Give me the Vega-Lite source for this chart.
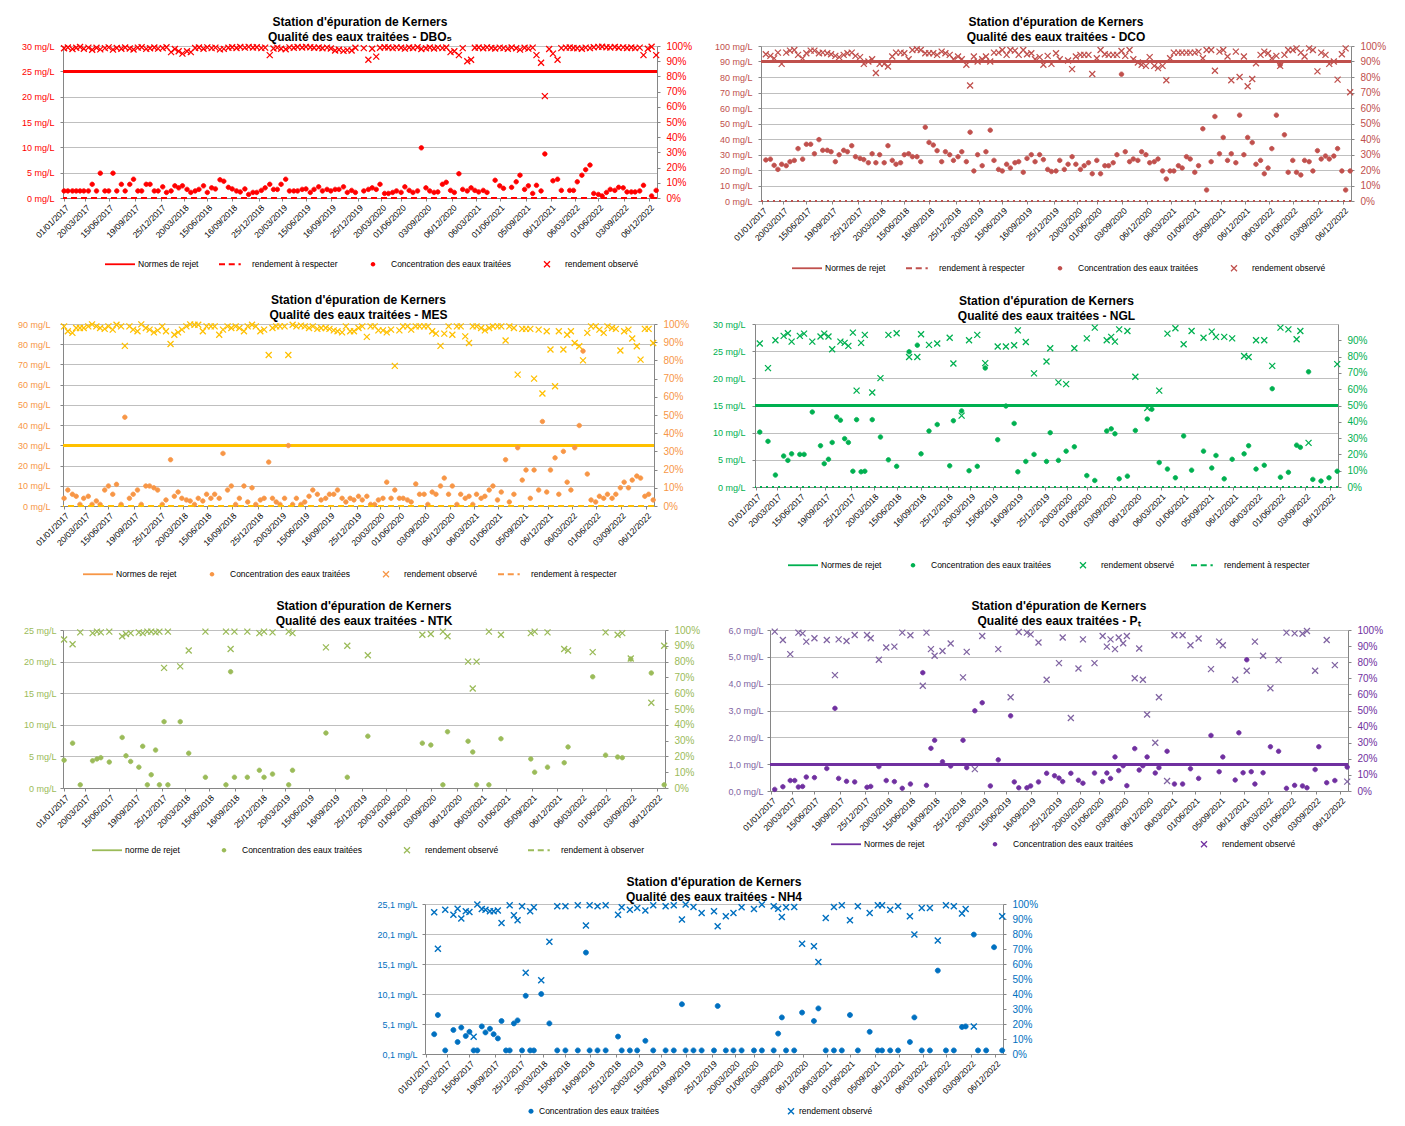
{
"$schema": "https://vega.github.io/schema/vega-lite/v6.json",
"background": "white",
"padding": {"left": 17, "top": 16, "right": 5, "bottom": 2},
"config": {
 "font": "Liberation Sans",
 "view": {"stroke": null},
 "title": {"font": "Liberation Sans", "fontSize": 12, "fontWeight": "bold", "color": "#000", "subtitleFont": "Liberation Sans", "subtitleFontSize": 12, "subtitleFontWeight": "bold", "subtitleColor": "#000", "subtitlePadding": 3, "offset": -3, "anchor": "middle"},
 "axis": {"labelFont": "Liberation Sans", "labelFontSize": 9, "tickSize": 3, "tickColor": "#868686", "domainColor": "#868686", "gridColor": "#BFBFBF", "labelPadding": 2, "labelOverlap": false},
 "legend": {"labelFont": "Liberation Sans", "labelFontSize": 8.5, "labelColor": "#000", "orient": "none", "direction": "horizontal", "symbolStrokeWidth": 0, "labelOffset": 3, "title": null}
},
"datasets": {
"dbo5": [{"d":"2017-01-01","c":1.4,"r":98.5},{"d":"2017-01-15","c":1.4,"r":99},{"d":"2017-02-01","c":1.4,"r":98},{"d":"2017-02-15","c":1.4,"r":98.8},{"d":"2017-03-01","c":1.4,"r":99.3},{"d":"2017-03-15","c":1.4,"r":98.2},{"d":"2017-04-01","c":1.4,"r":98.9},{"d":"2017-04-15","c":2.7,"r":97.5},{"d":"2017-05-01","c":1.4,"r":98.8},{"d":"2017-05-15","c":4.9,"r":97.8},{"d":"2017-06-01","c":1.4,"r":98.6},{"d":"2017-06-15","c":1.4,"r":99.1},{"d":"2017-07-01","c":4.9,"r":97.6},{"d":"2017-07-15","c":1.4,"r":98.7},{"d":"2017-08-01","c":2.7,"r":98.2},{"d":"2017-08-15","c":1.4,"r":99},{"d":"2017-09-01","c":2.7,"r":98.4},{"d":"2017-09-15","c":3.7,"r":97.7},{"d":"2017-10-01","c":1.4,"r":98.9},{"d":"2017-10-15","c":1.4,"r":99.2},{"d":"2017-11-01","c":2.7,"r":98.1},{"d":"2017-11-15","c":2.7,"r":98.5},{"d":"2017-12-01","c":1.4,"r":99},{"d":"2017-12-15","c":1.4,"r":98.3},
{"d":"2018-01-01","c":2.2,"r":98.6},{"d":"2018-01-15","c":1.1,"r":99.2},{"d":"2018-02-01","c":1.4,"r":96},{"d":"2018-02-15","c":2.4,"r":98},{"d":"2018-03-01","c":2.0,"r":96.5},{"d":"2018-03-15","c":2.4,"r":95},{"d":"2018-04-01","c":1.7,"r":96.5},{"d":"2018-04-15","c":1.1,"r":96},{"d":"2018-05-01","c":1.4,"r":98.7},{"d":"2018-05-15","c":1.7,"r":99},{"d":"2018-06-01","c":2.4,"r":98.2},{"d":"2018-06-15","c":1.1,"r":99.1},{"d":"2018-07-01","c":2.0,"r":98.6},{"d":"2018-07-15","c":1.8,"r":98.9},{"d":"2018-08-01","c":3.6,"r":97.8},{"d":"2018-08-15","c":3.3,"r":98.1},{"d":"2018-09-01","c":2.1,"r":98.8},{"d":"2018-09-15","c":1.8,"r":99.2},{"d":"2018-10-01","c":1.4,"r":98.7},{"d":"2018-10-15","c":1.2,"r":99.3},{"d":"2018-11-01","c":1.8,"r":98.9},{"d":"2018-11-15","c":0.7,"r":99.4},{"d":"2018-12-01","c":1.1,"r":99},{"d":"2018-12-15","c":1.1,"r":99.2},
{"d":"2019-01-01","c":1.5,"r":98.6},{"d":"2019-01-15","c":2.0,"r":98.9},{"d":"2019-02-01","c":2.7,"r":94},{"d":"2019-02-15","c":1.7,"r":98.4},{"d":"2019-03-01","c":1.7,"r":98.9},{"d":"2019-03-15","c":2.7,"r":98.2},{"d":"2019-04-01","c":3.7,"r":97.9},{"d":"2019-04-15","c":1.4,"r":99.1},{"d":"2019-05-01","c":1.4,"r":98.8},{"d":"2019-05-15","c":1.4,"r":99.3},{"d":"2019-06-01","c":1.7,"r":99},{"d":"2019-06-15","c":1.8,"r":99.4},{"d":"2019-07-01","c":1.1,"r":99.2},{"d":"2019-07-15","c":1.7,"r":98.8},{"d":"2019-08-01","c":2.2,"r":99},{"d":"2019-08-15","c":1.4,"r":98.5},{"d":"2019-09-01","c":1.7,"r":98.9},{"d":"2019-09-15","c":1.4,"r":98.4},{"d":"2019-10-01","c":1.7,"r":97},{"d":"2019-10-15","c":1.7,"r":97.5},{"d":"2019-11-01","c":2.2,"r":96.8},{"d":"2019-11-15","c":1.1,"r":97.3},{"d":"2019-12-01","c":1.5,"r":97},{"d":"2019-12-15","c":1.1,"r":98.8},
{"d":"2020-01-15","c":1.4,"r":98.6},{"d":"2020-02-01","c":1.7,"r":91},{"d":"2020-02-15","c":2.0,"r":98.2},{"d":"2020-03-01","c":1.7,"r":93},{"d":"2020-03-15","c":2.7,"r":98.8},{"d":"2020-04-01","c":0.9,"r":99.2},{"d":"2020-04-15","c":0.9,"r":99},{"d":"2020-05-01","c":1.1,"r":98.6},{"d":"2020-05-15","c":1.4,"r":99.1},{"d":"2020-06-01","c":1.1,"r":98.8},{"d":"2020-06-15","c":2.2,"r":98.3},{"d":"2020-07-01","c":1.5,"r":99},{"d":"2020-07-15","c":1.1,"r":98.7},{"d":"2020-08-01","c":1.4,"r":99.2},{"d":"2020-08-15","c":9.9,"r":98},{"d":"2020-09-01","c":2.0,"r":98.5},{"d":"2020-09-15","c":1.4,"r":99},{"d":"2020-10-01","c":1.1,"r":98.4},{"d":"2020-10-15","c":1.2,"r":98.9},{"d":"2020-11-01","c":2.7,"r":98.6},{"d":"2020-11-15","c":3.1,"r":99},{"d":"2020-12-01","c":1.5,"r":96},{"d":"2020-12-15","c":1.1,"r":96.5},
{"d":"2021-01-01","c":4.8,"r":94},{"d":"2021-01-15","c":1.7,"r":98.6},{"d":"2021-02-01","c":1.4,"r":90},{"d":"2021-02-15","c":2.0,"r":91},{"d":"2021-03-01","c":1.5,"r":98.8},{"d":"2021-03-15","c":1.2,"r":99},{"d":"2021-04-01","c":1.5,"r":98.5},{"d":"2021-04-15","c":1.1,"r":99.1},{"d":"2021-05-01","r":98.7},{"d":"2021-05-15","c":3.5,"r":98.4},{"d":"2021-06-01","c":2.4,"r":98.9},{"d":"2021-06-15","c":1.9,"r":98.6},{"d":"2021-07-01","r":98.2},{"d":"2021-07-15","c":2.1,"r":99},{"d":"2021-08-01","c":3.2,"r":98.5},{"d":"2021-08-15","c":4.5,"r":97.6},{"d":"2021-09-01","c":1.7,"r":98.8},{"d":"2021-09-15","c":2.4,"r":98.3},{"d":"2021-10-01","c":0.9,"r":98.9},{"d":"2021-10-15","c":2.5,"r":94},{"d":"2021-11-01","c":1.4,"r":89},{"d":"2021-11-15","c":8.7,"r":67},{"d":"2021-12-01","r":98},{"d":"2021-12-15","c":3.4,"r":95},
{"d":"2022-01-01","c":3.7,"r":91},{"d":"2022-01-15","c":1.5,"r":98.6},{"d":"2022-02-01","r":98.9},{"d":"2022-02-15","c":1.5,"r":99},{"d":"2022-03-01","c":1.5,"r":98.7},{"d":"2022-03-15","c":3.2,"r":98.5},{"d":"2022-04-01","c":4.5,"r":98.2},{"d":"2022-04-15","c":5.6,"r":98.9},{"d":"2022-05-01","c":6.5,"r":98.6},{"d":"2022-05-15","c":0.9,"r":99.2},{"d":"2022-06-01","c":0.7,"r":99.4},{"d":"2022-06-15","c":0.4,"r":99.5},{"d":"2022-07-01","c":1.1,"r":99.2},{"d":"2022-07-15","c":1.7,"r":99},{"d":"2022-08-01","c":1.5,"r":99.3},{"d":"2022-08-15","c":2.1,"r":98.8},{"d":"2022-09-01","c":2.0,"r":99.1},{"d":"2022-09-15","c":1.2,"r":98.7},{"d":"2022-10-01","c":1.2,"r":99},{"d":"2022-10-15","c":1.2,"r":98.6},{"d":"2022-11-01","c":1.4,"r":98.9},{"d":"2022-11-15","c":2.5,"r":94},{"d":"2022-12-01","r":98.2},{"d":"2022-12-15","c":0.4,"r":99.5},{"d":"2023-01-01","c":1.5,"r":94}],
"dco": [{"d":"2017-01-15","c":26.5,"r":94.7},{"d":"2017-02-01","c":27,"r":93.6},{"d":"2017-02-15","c":23,"r":92},{"d":"2017-03-01","c":20.4,"r":95.7},{"d":"2017-03-15","c":23.7,"r":88.5},{"d":"2017-04-01","c":22.8,"r":95.7},{"d":"2017-04-15","c":25.4,"r":97},{"d":"2017-05-01","c":26.2,"r":97.4},{"d":"2017-05-15","c":33.8,"r":94.3},{"d":"2017-06-01","c":27,"r":92},{"d":"2017-06-15","c":36.6,"r":95.3},{"d":"2017-07-01","c":36.6,"r":97},{"d":"2017-07-15","c":30.5,"r":97},{"d":"2017-08-01","c":39.6,"r":95.3},{"d":"2017-08-15","c":32.7,"r":95.7},{"d":"2017-09-01","c":32.7,"r":95.3},{"d":"2017-09-15","c":31.8,"r":94.7},{"d":"2017-10-01","c":25.4,"r":93.6},{"d":"2017-10-15","c":29.9,"r":92.8},{"d":"2017-11-01","c":32.7,"r":94.3},{"d":"2017-11-15","c":31.8,"r":95.3},{"d":"2017-12-01","c":35.7,"r":95.7},{"d":"2017-12-15","c":28.6,"r":93.6},
{"d":"2018-01-01","c":27.5,"r":92.8},{"d":"2018-01-15","c":26.7,"r":88.5},{"d":"2018-02-01","c":24.7,"r":90},{"d":"2018-02-15","c":30.5,"r":91.5},{"d":"2018-03-01","c":24.7,"r":82.6},{"d":"2018-03-15","c":29.9,"r":88.5},{"d":"2018-04-01","c":24.7,"r":88.5},{"d":"2018-04-15","c":35.7,"r":86.8},{"d":"2018-05-01","c":26.2,"r":93.2},{"d":"2018-05-15","c":23.7,"r":95.7},{"d":"2018-06-01","c":24.7,"r":95.7},{"d":"2018-06-15","c":29.9,"r":95.3},{"d":"2018-07-01","c":30.5,"r":91.5},{"d":"2018-07-15","c":28.6,"r":97.4},{"d":"2018-08-01","c":28.6,"r":97.9},{"d":"2018-08-15","c":25.4,"r":97.4},{"d":"2018-09-01","c":47.6,"r":95.3},{"d":"2018-09-15","c":37.8,"r":95.3},{"d":"2018-10-01","c":36.1,"r":95.3},{"d":"2018-10-15","c":32.5,"r":94.3},{"d":"2018-11-01","c":25.4,"r":96.4},{"d":"2018-11-15","c":31.8,"r":95.3},{"d":"2018-12-01","c":29.9,"r":94.3},{"d":"2018-12-15","c":26.2,"r":91.5},
{"d":"2019-01-01","c":28.6,"r":93.2},{"d":"2019-01-15","c":31.8,"r":91.5},{"d":"2019-02-01","c":25.4,"r":87.9},{"d":"2019-02-15","c":44.4,"r":74.5},{"d":"2019-03-01","c":19.4,"r":93.2},{"d":"2019-03-15","c":29.9,"r":90},{"d":"2019-04-01","c":22.8,"r":91.5},{"d":"2019-04-15","c":31.8,"r":93.2},{"d":"2019-05-01","c":45.7,"r":90},{"d":"2019-05-15","c":26.2,"r":95.7},{"d":"2019-06-01","c":20.4,"r":95.7},{"d":"2019-06-15","c":19.4,"r":97.4},{"d":"2019-07-01","c":23.7,"r":94.3},{"d":"2019-07-15","c":21.3,"r":97.4},{"d":"2019-08-01","c":24.7,"r":97},{"d":"2019-08-15","c":25.4,"r":94.3},{"d":"2019-09-01","c":18.5,"r":97.4},{"d":"2019-09-15","c":27.5,"r":94.7},{"d":"2019-10-01","c":29.9,"r":95.3},{"d":"2019-10-15","c":25.4,"r":91.5},{"d":"2019-11-01","c":29.9,"r":92.8},{"d":"2019-11-15","c":26.7,"r":87.9},{"d":"2019-12-01","c":20.4,"r":93.6},{"d":"2019-12-15","c":19,"r":88.5},
{"d":"2020-01-01","c":19.4,"r":95.3},{"d":"2020-01-15","c":26.2,"r":91.5},{"d":"2020-02-01","c":20.4},{"d":"2020-02-15","c":23.7,"r":90.6},{"d":"2020-03-01","c":28.6,"r":85.1},{"d":"2020-03-15","c":23.7,"r":93.2},{"d":"2020-04-01","c":20.4,"r":94.3},{"d":"2020-04-15","c":22.8,"r":94.3},{"d":"2020-05-01","c":24.7,"r":94.3},{"d":"2020-05-15","c":17.6,"r":81.9},{"d":"2020-06-01","c":26.2,"r":92.1},{"d":"2020-06-15","c":17.6,"r":97.4},{"d":"2020-07-01","c":22.8,"r":94.7},{"d":"2020-07-15","c":22.8,"r":94.3},{"d":"2020-08-01","c":24.7,"r":94.3},{"d":"2020-08-15","c":29.9,"r":94.3},{"d":"2020-09-01","c":81.8,"r":96.8},{"d":"2020-09-15","c":31.8,"r":93.6},{"d":"2020-10-01","c":25.4,"r":97.4},{"d":"2020-10-15","c":27.1,"r":91.5},{"d":"2020-11-01","c":26.2,"r":89.4},{"d":"2020-11-15","c":31.8,"r":87.9},{"d":"2020-12-01","c":29.9,"r":87.2},{"d":"2020-12-15","c":24.7,"r":92.8},
{"d":"2021-01-01","c":25.4,"r":87.2},{"d":"2021-01-15","c":27.1,"r":85.7},{"d":"2021-02-01","c":19.4,"r":87.2},{"d":"2021-02-15","c":14.2,"r":77.9},{"d":"2021-03-01","c":19.4,"r":92.1},{"d":"2021-03-15","c":19.4,"r":95.7},{"d":"2021-04-01","c":22.8,"r":95.7},{"d":"2021-04-15","c":21.3,"r":95.7},{"d":"2021-05-01","c":28.6,"r":95.7},{"d":"2021-05-15","c":27.1,"r":95.7},{"d":"2021-06-01","c":18.5,"r":95.7},{"d":"2021-06-15","c":22.8,"r":96.4},{"d":"2021-07-01","c":46.6,"r":92.1},{"d":"2021-07-15","c":7.1,"r":97.4},{"d":"2021-08-01","c":25.4,"r":97.4},{"d":"2021-08-15","c":54.5,"r":84},{"d":"2021-09-01","c":30.5,"r":96.4},{"d":"2021-09-15","c":41,"r":97.4},{"d":"2021-10-01","c":26.2,"r":93.2},{"d":"2021-10-15","c":30.5,"r":77.9},{"d":"2021-11-01","c":24.7,"r":96.4},{"d":"2021-11-15","c":55.4,"r":80},{"d":"2021-12-01","c":29.9,"r":93.2},{"d":"2021-12-15","c":41,"r":74},
{"d":"2022-01-01","c":37.7,"r":78.7},{"d":"2022-01-15","c":23.7,"r":88.9},{"d":"2022-02-01","c":26.2,"r":94.3},{"d":"2022-02-15","c":17.6,"r":96.4},{"d":"2022-03-01","c":21.3,"r":95.3},{"d":"2022-03-15","c":33.8,"r":92.1},{"d":"2022-04-01","c":55.4,"r":93.6},{"d":"2022-04-15","c":87.8,"r":87.2},{"d":"2022-05-01","c":42.7,"r":94.3},{"d":"2022-05-15","c":18.5,"r":97.4},{"d":"2022-06-01","c":26.2,"r":97.4},{"d":"2022-06-15","c":18.5,"r":98.5},{"d":"2022-07-01","c":16.8,"r":95.7},{"d":"2022-07-15","c":26.2,"r":93.2},{"d":"2022-08-01","c":25.4,"r":98.5},{"d":"2022-08-15","c":19.4,"r":97.4},{"d":"2022-09-01","c":32.5,"r":83.6},{"d":"2022-09-15","c":27.1,"r":95.7},{"d":"2022-10-01","c":29,"r":94.3},{"d":"2022-10-15","c":27.1,"r":88.5},{"d":"2022-11-01","c":29,"r":90},{"d":"2022-11-15","c":33.8,"r":78.3},{"d":"2022-12-01","c":19.4,"r":94.7},{"d":"2022-12-15","c":7.1,"r":98.5},{"d":"2023-01-01","c":19.4,"r":70.2}],
"mes": [{"d":"2017-01-01","c":3.8,"r":98.7},{"d":"2017-01-15","c":7.9,"r":96},{"d":"2017-02-01","c":5.8,"r":95.1},{"d":"2017-02-15","c":4.8,"r":97.8},{"d":"2017-03-01","c":0.8,"r":97.8},{"d":"2017-03-15","c":3.8,"r":97.8},{"d":"2017-04-01","c":4.8,"r":98.7},{"d":"2017-04-15","c":0.8,"r":99.8},{"d":"2017-05-01","c":2.5,"r":98.7},{"d":"2017-05-15","c":0.8,"r":97.8},{"d":"2017-06-01","c":7.9,"r":97.3},{"d":"2017-06-15","c":9.9,"r":98.7},{"d":"2017-07-01","c":5.8,"r":96.9},{"d":"2017-07-15","c":10.7,"r":99.6},{"d":"2017-08-01","c":0.8,"r":98.7},{"d":"2017-08-15","c":43.9,"r":88},{"d":"2017-09-01","c":3.8,"r":98.7},{"d":"2017-09-15","c":5.8,"r":96.9},{"d":"2017-10-01","c":7.9,"r":96},{"d":"2017-10-15","c":0.8,"r":99.8},{"d":"2017-11-01","c":9.9,"r":97.8},{"d":"2017-11-15","c":9.9,"r":96.9},{"d":"2017-12-01","c":9,"r":95.4},{"d":"2017-12-15","c":7.9,"r":96.5},
{"d":"2018-01-01","c":0.8,"r":98.7},{"d":"2018-01-15","c":3,"r":96},{"d":"2018-02-01","c":22.9,"r":89},{"d":"2018-02-15","c":4.8,"r":94.1},{"d":"2018-03-01","c":6.9,"r":95.4},{"d":"2018-03-15","c":3.8,"r":96.9},{"d":"2018-04-01","c":3,"r":98.7},{"d":"2018-04-15","c":2.5,"r":99.8},{"d":"2018-05-01","c":0.8,"r":99.6},{"d":"2018-05-15","c":3.8,"r":99.6},{"d":"2018-06-01","c":2.5,"r":96},{"d":"2018-06-15","c":5.8,"r":98.7},{"d":"2018-07-01","c":3.8,"r":98.7},{"d":"2018-07-15","c":5.8,"r":98.7},{"d":"2018-08-01","c":3.8,"r":94.1},{"d":"2018-08-15","c":26,"r":96.9},{"d":"2018-09-01","c":7.9,"r":98.7},{"d":"2018-09-15","c":9.9,"r":97.8},{"d":"2018-10-01","c":0.8,"r":98.7},{"d":"2018-10-15","c":3.8,"r":97.8},{"d":"2018-11-01","c":9.9,"r":96},{"d":"2018-11-15","c":2,"r":98.7},{"d":"2018-12-01","c":9,"r":99.6},{"d":"2018-12-15","c":0.8,"r":98.7},
{"d":"2019-01-01","c":3,"r":96},{"d":"2019-01-15","c":3.8,"r":96.9},{"d":"2019-02-01","c":21.7,"r":83},{"d":"2019-02-15","c":3.8,"r":97.8},{"d":"2019-03-01","c":2,"r":98.7},{"d":"2019-03-15","c":0.8,"r":98.7},{"d":"2019-04-01","c":3.8,"r":98.7},{"d":"2019-04-15","c":29.9,"r":83},{"d":"2019-05-01","c":0.8,"r":99.6},{"d":"2019-05-15","c":3.8,"r":98.7},{"d":"2019-06-01","c":0.8,"r":99.1},{"d":"2019-06-15","c":2,"r":98.7},{"d":"2019-07-01","c":4.8,"r":97.8},{"d":"2019-07-15","c":7.9,"r":98.7},{"d":"2019-08-01","c":5.8,"r":97.3},{"d":"2019-08-15","c":3,"r":97.8},{"d":"2019-09-01","c":3.8,"r":97.8},{"d":"2019-09-15","c":5.8,"r":97.3},{"d":"2019-10-01","c":5.8,"r":96.5},{"d":"2019-10-15","c":7.9,"r":96},{"d":"2019-11-01","c":3.8,"r":95.4},{"d":"2019-11-15","c":2,"r":98.7},{"d":"2019-12-01","c":3.8,"r":96},{"d":"2019-12-15","c":3,"r":96},
{"d":"2020-01-01","c":4.8,"r":97.8},{"d":"2020-01-15","c":3,"r":98.7},{"d":"2020-02-01","c":4.8,"r":92.9},{"d":"2020-02-15","c":0.8,"r":98.7},{"d":"2020-03-01","c":0.8,"r":98.7},{"d":"2020-03-15","c":3,"r":96.5},{"d":"2020-04-01","c":3.8,"r":96.5},{"d":"2020-04-15","c":11.8,"r":95.4},{"d":"2020-05-01","c":3.8,"r":96.9},{"d":"2020-05-15","c":7.9,"r":77},{"d":"2020-06-01","c":3.8,"r":96.5},{"d":"2020-06-15","c":3.8,"r":98.7},{"d":"2020-07-01","c":3,"r":98.7},{"d":"2020-07-15","c":2,"r":96.9},{"d":"2020-08-01","c":10.9,"r":98.7},{"d":"2020-08-15","c":5.8,"r":98.7},{"d":"2020-09-01","c":5.8,"r":98.7},{"d":"2020-09-15","c":0.8,"r":98.7},{"d":"2020-10-01","c":6.9,"r":96},{"d":"2020-10-15","c":5.8,"r":94.7},{"d":"2020-11-01","c":9.9,"r":88},{"d":"2020-11-15","c":13.8,"r":94.7},{"d":"2020-12-01","c":5.8,"r":98.7},{"d":"2020-12-15","c":9.9,"r":94.1},
{"d":"2021-01-01","c":0.8,"r":98.7},{"d":"2021-01-15","c":5.8,"r":98.7},{"d":"2021-02-01","c":3.8,"r":93.2},{"d":"2021-02-15","c":4.8,"r":89.6},{"d":"2021-03-01","c":0.8,"r":98.7},{"d":"2021-03-15","c":5.8,"r":98.7},{"d":"2021-04-01","c":3.8,"r":97.8},{"d":"2021-04-15","c":4.8,"r":96.5},{"d":"2021-05-01","c":7.9,"r":97.8},{"d":"2021-05-15","c":9.9,"r":98.7},{"d":"2021-06-01","c":3,"r":98.7},{"d":"2021-06-15","c":6.9,"r":98.7},{"d":"2021-07-01","c":22.9,"r":90.9},{"d":"2021-07-15","c":2,"r":98.7},{"d":"2021-08-01","c":5.8,"r":97.8},{"d":"2021-08-15","c":28.8,"r":72.2},{"d":"2021-09-01","c":12.8,"r":97.3},{"d":"2021-09-15","c":17.8,"r":97.3},{"d":"2021-10-01","c":3.8,"r":97.3},{"d":"2021-10-15","c":17.8,"r":70},{"d":"2021-11-01","c":7.9,"r":96.9},{"d":"2021-11-15","c":41.8,"r":61.8},{"d":"2021-12-01","c":6.9,"r":96},{"d":"2021-12-15","c":17.8,"r":86},
{"d":"2022-01-01","c":23.8,"r":65.8},{"d":"2022-01-15","c":5.8,"r":96},{"d":"2022-02-01","c":27,"r":86},{"d":"2022-02-15","c":11.8,"r":94.1},{"d":"2022-03-01","c":7.9,"r":96},{"d":"2022-03-15","c":28.8,"r":89.6},{"d":"2022-04-01","c":39.8,"r":87.8},{"d":"2022-04-15","c":76.6,"r":80},{"d":"2022-05-01","c":15.8,"r":95.1},{"d":"2022-05-15","c":3,"r":98.7},{"d":"2022-06-01","c":2,"r":98.7},{"d":"2022-06-15","c":4.8,"r":96.9},{"d":"2022-07-01","c":3.8,"r":95.1},{"d":"2022-07-15","c":5.8,"r":98.7},{"d":"2022-08-01","c":3.8,"r":97.8},{"d":"2022-08-15","c":5.8,"r":97.3},{"d":"2022-09-01","c":9,"r":85.4},{"d":"2022-09-15","c":11.8,"r":96},{"d":"2022-10-01","c":9,"r":96.9},{"d":"2022-10-15","c":12.8,"r":92},{"d":"2022-11-01","c":14.8,"r":87.8},{"d":"2022-11-15","c":13.8,"r":80.4},{"d":"2022-12-01","c":4.8,"r":97.3},{"d":"2022-12-15","c":5.8,"r":97.3},{"d":"2023-01-01","c":3,"r":89.6}],
"ngl": [{"d":"2017-01-15","c":10.1,"r":88},{"d":"2017-02-15","c":8.4,"r":72.9},{"d":"2017-03-15","c":2.2,"r":90},{"d":"2017-04-15","c":5.7,"r":92.7},{"d":"2017-05-01","c":4.9,"r":94.3},{"d":"2017-05-15","c":6.1,"r":89.2},{"d":"2017-06-15","c":6,"r":92.7},{"d":"2017-07-01","c":6,"r":94.1},{"d":"2017-08-01","c":13.8,"r":89.2},{"d":"2017-09-01","c":7.6,"r":92.3},{"d":"2017-09-15","c":4.3,"r":94.1},{"d":"2017-10-01","c":5.1,"r":92.3},{"d":"2017-10-15","c":8.2,"r":84.5},{"d":"2017-11-01","c":12.9},{"d":"2017-11-15","c":12.3,"r":89.2},{"d":"2017-12-01","c":8.9,"r":88.4},{"d":"2017-12-15","c":8.2,"r":86.6},{"d":"2018-01-01","c":2.9,"r":94.7},{"d":"2018-01-15","c":12.4,"r":59.1},{"d":"2018-02-01","c":2.8,"r":88.4},{"d":"2018-02-15","c":2.9,"r":93.3},{"d":"2018-03-15","c":12.4,"r":58},{"d":"2018-04-15","c":9.2,"r":66.8},{"d":"2018-05-15","c":5,"r":93.3},{"d":"2018-06-15","c":3.8,"r":94.3},{"d":"2018-08-01","c":24.9,"r":79.8},{"d":"2018-09-01","c":26.1,"r":79.8},{"d":"2018-09-15","c":6.1,"r":93.7},{"d":"2018-10-15","c":10.3,"r":87.2},{"d":"2018-11-15","c":11.5,"r":88},{"d":"2019-01-01","c":3.9,"r":91.6},{"d":"2019-01-15","c":12.2,"r":75.8},{"d":"2019-02-15","c":14,"r":43.8},{"d":"2019-03-15","c":3,"r":90},{"d":"2019-04-15","c":3.8,"r":93.3},{"d":"2019-05-15","c":21.9,"r":76},{"d":"2019-07-01","c":8.7,"r":86.2},{"d":"2019-08-01","c":14.9,"r":86.2},{"d":"2019-09-01","c":11.7,"r":87},{"d":"2019-09-15","c":2.8,"r":96.1},{"d":"2019-10-15","c":4.7,"r":89},{"d":"2019-11-15","c":6,"r":69.7},{"d":"2020-01-01","c":4.7,"r":77},{"d":"2020-01-15","c":10,"r":85.1},{"d":"2020-02-15","c":4.9,"r":64.2},{"d":"2020-03-15","c":6.6,"r":63.1},{"d":"2020-04-15","c":7.4,"r":85.1},{"d":"2020-06-01","c":2.1,"r":91.2},{"d":"2020-07-01","c":1.2,"r":97.8},{"d":"2020-08-15","c":10.3,"r":90},{"d":"2020-09-01","c":10.7,"r":92.1},{"d":"2020-09-15","c":9.8,"r":89.2},{"d":"2020-10-01","c":1.5,"r":96.7},{"d":"2020-11-01","c":2,"r":95.7},{"d":"2020-12-01","c":10.4,"r":67.6},{"d":"2021-01-15","c":12.5,"r":48.5},{"d":"2021-02-01","c":14.3},{"d":"2021-03-01","c":4.5,"r":59.1},{"d":"2021-04-01","c":3.3,"r":94.1},{"d":"2021-05-01","c":1.7,"r":97.4},{"d":"2021-06-01","c":9.4,"r":87.6},{"d":"2021-07-01","c":3.1,"r":95.7},{"d":"2021-08-15","c":6.6,"r":91.6},{"d":"2021-09-15","c":3.5,"r":95.3},{"d":"2021-10-01","c":5.8,"r":92.1},{"d":"2021-11-01","c":1.5,"r":92.1},{"d":"2021-12-01","c":5.1,"r":91.2},{"d":"2022-01-15","c":6.1,"r":80.4},{"d":"2022-02-01","c":7.6,"r":79.8},{"d":"2022-03-01","c":3.3,"r":90},{"d":"2022-04-01","c":4,"r":90},{"d":"2022-05-01","c":18.1,"r":74.3},{"d":"2022-06-01","c":1.8,"r":97.8},{"d":"2022-07-01","c":2.7,"r":96.7},{"d":"2022-08-01","c":7.7,"r":90.6},{"d":"2022-08-15","c":7.3,"r":95.7},{"d":"2022-09-15","c":21.2,"r":27.1},{"d":"2022-10-01","c":1.4},{"d":"2022-11-01","c":1.1},{"d":"2022-12-01","c":1.7},{"d":"2023-01-01","c":2.9,"r":75.4}],
"ntk": [{"d":"2017-01-01","c":4.4,"r":94},{"d":"2017-02-01","c":7.1,"r":91},{"d":"2017-03-01","c":0.5,"r":98.5},{"d":"2017-04-15","c":4.3,"r":98},{"d":"2017-05-01","c":4.6,"r":99},{"d":"2017-05-15","c":4.8,"r":98.5},{"d":"2017-06-15","c":4.1,"r":99},{"d":"2017-08-01","c":8,"r":96},{"d":"2017-08-15","c":5.1,"r":97.5},{"d":"2017-09-01","c":4.2,"r":98},{"d":"2017-10-01","c":3.3,"r":98.5},{"d":"2017-10-15","c":6.6,"r":98},{"d":"2017-11-01","c":0.5,"r":99},{"d":"2017-11-15","c":2.1,"r":99},{"d":"2017-12-01","c":6,"r":98.5},{"d":"2017-12-15","c":0.5,"r":99},{"d":"2018-01-01","c":10.5,"r":76},{"d":"2018-01-15","c":0.5,"r":99},{"d":"2018-03-01","c":10.5,"r":77},{"d":"2018-04-01","c":5.5,"r":87},{"d":"2018-06-01","c":1.7,"r":99},{"d":"2018-08-15","c":0.5,"r":99},{"d":"2018-09-01","c":18.4,"r":88},{"d":"2018-09-15","c":1.7,"r":99},{"d":"2018-11-01","c":1.7,"r":99},{"d":"2018-12-15","c":2.8,"r":98},{"d":"2019-01-01","c":1.7,"r":99},{"d":"2019-02-01","c":2.2,"r":98.5},{"d":"2019-04-01","c":0.5,"r":99},{"d":"2019-04-15","c":2.8,"r":98},{"d":"2019-08-15","c":8.7,"r":89},{"d":"2019-11-01","c":1.7,"r":90},{"d":"2020-01-15","c":8.2,"r":84},{"d":"2020-08-01","c":7.1,"r":97},{"d":"2020-09-01","c":6.8,"r":97.5},{"d":"2020-10-15","c":0.5,"r":99},{"d":"2020-11-01","c":8.9,"r":96},{"d":"2021-01-15","c":7.4,"r":80},{"d":"2021-02-01","c":5.7,"r":63},{"d":"2021-02-15","c":0.5,"r":80},{"d":"2021-04-01","c":0.5,"r":99},{"d":"2021-05-15","c":7.8,"r":97},{"d":"2021-09-01","c":4.6,"r":98},{"d":"2021-09-15","c":2.5,"r":99},{"d":"2021-11-01","c":3.3,"r":98.5},{"d":"2022-01-01","c":4,"r":88},{"d":"2022-01-15","c":6.5,"r":87},{"d":"2022-04-15","c":17.6,"r":86},{"d":"2022-06-01","c":5.2,"r":98.5},{"d":"2022-07-15","c":4.9,"r":97},{"d":"2022-08-01","c":4.8,"r":98},{"d":"2022-09-01","c":20.4,"r":82},{"d":"2022-11-15","c":18.2,"r":54},{"d":"2023-01-01","c":0.5,"r":90}],
"pt": [{"d":"2017-01-15","c":0.06,"r":99},{"d":"2017-02-15","c":0.16,"r":93.8},{"d":"2017-03-15","c":0.39,"r":85},{"d":"2017-04-01","c":0.39},{"d":"2017-04-15","c":0.15,"r":98.4},{"d":"2017-05-01","c":0.17,"r":97.9},{"d":"2017-05-15","c":0.52,"r":92.8},{"d":"2017-06-15","c":0.5,"r":94.9},{"d":"2017-08-01","c":0.84,"r":93.8},{"d":"2017-09-01","c":3.08,"r":72},{"d":"2017-09-15","c":0.47,"r":94.2},{"d":"2017-10-15","c":0.36,"r":93.2},{"d":"2017-11-15","c":0.34,"r":96.9},{"d":"2018-01-01","c":0.14,"r":96.9},{"d":"2018-01-15","c":0.17,"r":94.9},{"d":"2018-02-15","c":0.91,"r":81.5},{"d":"2018-03-15","c":0.39,"r":89.1},{"d":"2018-04-15","c":0.35,"r":89.7},{"d":"2018-05-15","c":0.1,"r":98.4},{"d":"2018-06-15","c":0.26,"r":96.7},{"d":"2018-08-01","c":4.41,"r":65.4},{"d":"2018-08-15","c":0.21,"r":98.4},{"d":"2018-09-01","c":1.59,"r":88.1},{"d":"2018-09-15","c":1.89,"r":84},{"d":"2018-10-15","c":1.09,"r":87},{"d":"2018-11-15","c":0.93,"r":91.6},{"d":"2019-01-01","c":1.89,"r":70.6},{"d":"2019-01-15","c":0.87,"r":86.4},{"d":"2019-02-15","c":2.99,"r":13.6},{"d":"2019-03-15","c":3.29,"r":96.3},{"d":"2019-04-15","c":0.19},{"d":"2019-05-15","c":1.16,"r":88.1},{"d":"2019-07-01","c":2.8,"r":58.2},{"d":"2019-07-15","c":0.34},{"d":"2019-08-01","c":0.12,"r":98.8},{"d":"2019-09-01","c":0.12,"r":98.4},{"d":"2019-09-15","c":0.19,"r":97.3},{"d":"2019-10-15","c":0.34,"r":92.2},{"d":"2019-11-15","c":0.66,"r":69.1},{"d":"2019-12-15","c":0.57},{"d":"2020-01-01","c":0.48,"r":79.4},{"d":"2020-01-15","c":0.35,"r":95.3},{"d":"2020-02-15","c":0.66,"r":45.3},{"d":"2020-03-15","c":0.4,"r":76.1},{"d":"2020-04-01","c":0.29,"r":94.2},{"d":"2020-05-15","c":0.67,"r":79.4},{"d":"2020-06-15","c":0.35,"r":96.3},{"d":"2020-07-01","c":0.67,"r":89.7},{"d":"2020-07-15","c":0.47,"r":94.2},{"d":"2020-08-01","c":1.27,"r":88.1},{"d":"2020-08-15","c":0.76,"r":95.3},{"d":"2020-09-01","c":0.94,"r":91.8},{"d":"2020-09-15","c":0.2,"r":96.3},{"d":"2020-10-15","c":1.58,"r":70},{"d":"2020-11-01","c":0.78,"r":88.5},{"d":"2020-11-15","c":0.94,"r":69.1},{"d":"2020-12-01","c":1.27,"r":47.5},{"d":"2021-01-01","c":0.67,"r":30},{"d":"2021-01-15","c":0.87,"r":58.2},{"d":"2021-02-15","c":1.48,"r":6.2},{"d":"2021-03-15","c":0.26,"r":96.7},{"d":"2021-04-15","c":0.26,"r":96.7},{"d":"2021-05-15","c":0.83,"r":90.5},{"d":"2021-06-15","c":0.47,"r":94.7},{"d":"2021-08-01","c":2.07,"r":75.7},{"d":"2021-09-01","c":0.72,"r":92.8},{"d":"2021-09-15","c":1.27,"r":90.5},{"d":"2021-11-01","c":0.41,"r":69.1},{"d":"2021-11-15","c":2.17},{"d":"2021-12-01","c":0.68},{"d":"2021-12-15","c":4.89,"r":74.7},{"d":"2022-01-01","c":0.72},{"d":"2022-01-15","c":0.26,"r":92.8},{"d":"2022-02-15","c":0.68,"r":84},{"d":"2022-03-15","c":1.65,"r":63.8},{"d":"2022-04-15","c":1.48,"r":81.3},{"d":"2022-05-15","c":0.1,"r":98.4},{"d":"2022-06-15","c":0.21,"r":97.9},{"d":"2022-07-15","c":0.19,"r":97.7},{"d":"2022-08-01","c":0.12,"r":99.4},{"d":"2022-09-01","c":0.8,"r":74.7},{"d":"2022-09-15","c":1.65},{"d":"2022-10-15","c":0.31,"r":93.8},{"d":"2022-11-15","c":0.39,"r":78.2},{"d":"2023-01-01","c":0.89,"r":5.8}],
"nh4": [{"d":"2017-02-01","c":3.4,"r":94.5},{"d":"2017-02-15","c":6.6,"r":70.1},{"d":"2017-03-15","c":0.7,"r":96.2},{"d":"2017-04-15","c":4.1,"r":92.9},{"d":"2017-05-01","c":2.1,"r":96.9},{"d":"2017-05-15","c":4.5,"r":90.3},{"d":"2017-06-01","c":3.1,"r":95.1},{"d":"2017-06-15","c":3.8,"r":94.7},{"d":"2017-07-01","c":0.7,"r":11.5},{"d":"2017-07-15","c":0.7,"r":99.6},{"d":"2017-08-01","c":4.7,"r":96.7},{"d":"2017-08-15","c":3.7,"r":96.2},{"d":"2017-09-01","c":4.3,"r":95.1},{"d":"2017-09-15","c":3.4,"r":95.1},{"d":"2017-10-01","c":2.7,"r":95.6},{"d":"2017-10-15","c":5.6,"r":87.4},{"d":"2017-11-01","c":0.7},{"d":"2017-11-15","c":0.7,"r":99.1},{"d":"2017-12-01","c":5.2,"r":92.5},{"d":"2017-12-15","c":5.7,"r":89.2},{"d":"2018-01-01","c":0.7,"r":98.5},{"d":"2018-01-15","c":9.8,"r":54.2},{"d":"2018-02-01","c":0.7,"r":95.1},{"d":"2018-02-15","c":0.7,"r":97.8},{"d":"2018-03-15","c":10.1,"r":49.1},{"d":"2018-04-15","c":5.2,"r":74.8},{"d":"2018-05-15","c":0.7,"r":98.5},{"d":"2018-06-15","c":0.7,"r":98.5},{"d":"2018-08-01","c":0.7,"r":99.1},{"d":"2018-09-01","c":17,"r":85.6},{"d":"2018-09-15","c":0.7,"r":99.1},{"d":"2018-10-15","c":0.7,"r":98.5},{"d":"2018-11-15","c":0.7,"r":99.1},{"d":"2019-01-01","c":3,"r":92.9},{"d":"2019-01-15","c":0.7,"r":97.8},{"d":"2019-02-15","c":0.7,"r":96.2},{"d":"2019-03-15","c":0.7,"r":97.3},{"d":"2019-04-15","c":2.3,"r":95.6},{"d":"2019-05-15","c":0.7,"r":99.1},{"d":"2019-07-01","c":0.7,"r":98.5},{"d":"2019-08-01","c":0.7,"r":99.1},{"d":"2019-09-01","c":8.4,"r":89.6},{"d":"2019-09-15","c":0.7,"r":99.6},{"d":"2019-10-15","c":0.7,"r":98},{"d":"2019-11-15","c":0.7,"r":94},{"d":"2020-01-01","c":0.7,"r":95.1},{"d":"2020-01-15","c":8.1,"r":85.2},{"d":"2020-02-15","c":0.7,"r":91.8},{"d":"2020-03-15","c":0.7,"r":94},{"d":"2020-04-15","c":0.7,"r":97.8},{"d":"2020-06-01","c":0.7,"r":96.7},{"d":"2020-07-01","c":0.7,"r":99.6},{"d":"2020-08-15","c":0.7,"r":98.5},{"d":"2020-09-01","c":3.5,"r":96.9},{"d":"2020-09-15","c":6.2,"r":91.4},{"d":"2020-10-01","c":0.7,"r":97.8},{"d":"2020-11-01","c":0.7,"r":98},{"d":"2020-12-01","c":7,"r":73.5},{"d":"2021-01-15","c":5.6,"r":71.9},{"d":"2021-02-01","c":7.7,"r":61.3},{"d":"2021-03-01","c":0.7,"r":90.7},{"d":"2021-04-01","c":0.7,"r":98},{"d":"2021-05-01","c":0.7,"r":99.1},{"d":"2021-06-01","c":6.6,"r":89.2},{"d":"2021-07-01","c":0.7,"r":98.5},{"d":"2021-08-15","c":3.8,"r":94},{"d":"2021-09-15","c":0.7,"r":99.1},{"d":"2021-10-01","c":0.7,"r":99.1},{"d":"2021-11-01","c":0.7,"r":96.2},{"d":"2021-12-01","c":0.7,"r":98.5},{"d":"2022-01-15","c":2.1,"r":91.8},{"d":"2022-02-01","c":6.2,"r":79.6},{"d":"2022-03-01","c":0.7,"r":97.3},{"d":"2022-04-01","c":0.7,"r":97.3},{"d":"2022-05-01","c":14,"r":75.7},{"d":"2022-06-01","c":0.7,"r":99.1},{"d":"2022-07-01","c":0.7,"r":98.5},{"d":"2022-08-01","c":4.6,"r":93.6},{"d":"2022-08-15","c":4.7,"r":96.7},{"d":"2022-09-15","c":20,"r":18.4},{"d":"2022-10-01","c":0.7},{"d":"2022-11-01","c":0.7},{"d":"2022-12-01","c":17.9},{"d":"2023-01-01","c":0.7,"r":91.8}]
},
"spacing": 21,
"resolve": {"scale": {"shape": "independent"}, "legend": {"shape": "independent"}},
"vconcat": [
{"hconcat": [
{"width": 594, "height": 152,
 "title": {"text": "Station d'épuration de Kerners", "subtitle": "Qualité des eaux traitées - DBO₅"},
 "data": {"name": "dbo5"},
 "layer": [
  {"layer": [
   {"mark": {"type": "rule", "color": "#FF0000", "strokeWidth": 2}, "encoding": {"y": {"datum": 25, "type": "quantitative", "scale": {"domain": [0, 30], "nice": false}, "axis": {"title": null, "orient": "left", "values": [0,5,10,15,20,25,30], "labelExpr": "datum.value + ' mg/L'", "labelColor": "#FF0000", "grid": true, "labelOverlap": false, "labelPadding": 6}}}},
   {"mark": {"type": "point", "size": 900, "filled": true, "fill": "#FF0000", "stroke": "#FF0000", "strokeWidth": 0.8, "opacity": 1},
    "encoding": {
     "x": {"field": "d", "type": "temporal", "scale": {"type": "utc", "domain": [{"year": 2016, "month": 12, "date": 28, "utc": true}, {"year": 2023, "month": 1, "date": 4, "utc": true}]}, "axis": {"title": null, "format": "%d/%m/%Y", "labelAngle": -45, "labelFontSize": 8.5, "labelColor": "#000", "grid": false, "labelOverlap": false, "labelFlush": false, "labelBound": false, "values": [{"year":2017,"month":1,"date":1,"utc":true},{"year":2017,"month":3,"date":20,"utc":true},{"year":2017,"month":6,"date":15,"utc":true},{"year":2017,"month":9,"date":19,"utc":true},{"year":2017,"month":12,"date":25,"utc":true},{"year":2018,"month":3,"date":20,"utc":true},{"year":2018,"month":6,"date":15,"utc":true},{"year":2018,"month":9,"date":16,"utc":true},{"year":2018,"month":12,"date":25,"utc":true},{"year":2019,"month":3,"date":20,"utc":true},{"year":2019,"month":6,"date":15,"utc":true},{"year":2019,"month":9,"date":16,"utc":true},{"year":2019,"month":12,"date":25,"utc":true},{"year":2020,"month":3,"date":20,"utc":true},{"year":2020,"month":6,"date":1,"utc":true},{"year":2020,"month":9,"date":3,"utc":true},{"year":2020,"month":12,"date":6,"utc":true},{"year":2021,"month":3,"date":6,"utc":true},{"year":2021,"month":6,"date":1,"utc":true},{"year":2021,"month":9,"date":5,"utc":true},{"year":2021,"month":12,"date":6,"utc":true},{"year":2022,"month":3,"date":6,"utc":true},{"year":2022,"month":6,"date":1,"utc":true},{"year":2022,"month":9,"date":3,"utc":true},{"year":2022,"month":12,"date":6,"utc":true}]}},
     "y": {"field": "c", "type": "quantitative", "scale": {"domain": [0, 30], "nice": false}, "axis": {"title": null, "orient": "left", "values": [0,5,10,15,20,25,30], "labelExpr": "datum.value + ' mg/L'", "labelColor": "#FF0000", "grid": true, "labelOverlap": false, "labelPadding": 6}},
     "shape": {"datum": "Concentration des eaux traitées", "type": "nominal",
      "scale": {"domain": ["Normes de rejet", "rendement à respecter", "Concentration des eaux traitées", "rendement observé"], "range": ["M-1,-0.06L1,-0.06L1,0.06L-1,0.06Z", "M-1,-0.06L-0.6,-0.06L-0.6,0.06L-1,0.06ZM-0.35,-0.06L0.05,-0.06L0.05,0.06L-0.35,0.06ZM0.3,-0.06L0.45,-0.06L0.45,0.06L0.3,0.06Z", "M0.15,0A0.15,0.15,0,1,1,-0.15,0A0.15,0.15,0,1,1,0.15,0Z", "M-0.17,-0.23L0.23,0.17L0.17,0.23L-0.23,-0.17ZM-0.23,0.17L0.17,-0.23L0.23,-0.17L-0.17,0.23Z"]},
      "legend": {"legendX": 42, "legendY": 203, "symbolSize": 900, "columnPadding": 20, "symbolFillColor": "#FF0000", "symbolStrokeColor": "#FF0000"}}
    }}
  ]},
  {"layer": [
   {"mark": {"type": "rule", "color": "#FF0000", "strokeWidth": 1.5, "strokeDash": [6, 4]}, "encoding": {"y": {"datum": 0, "type": "quantitative", "scale": {"domain": [0, 100], "nice": false}, "axis": {"title": null, "orient": "right", "values": [0,10,20,30,40,50,60,70,80,90,100], "labelExpr": "datum.value + '%'", "labelColor": "#FF0000", "labelFontSize": 10, "grid": false, "labelOverlap": false, "labelPadding": 6}}}},
   {"mark": {"type": "point", "size": 900, "filled": true, "fill": "#FF0000", "strokeWidth": 0, "opacity": 1},
    "encoding": {
     "x": {"field": "d", "type": "temporal", "axis": {"title": null, "format": "%d/%m/%Y", "labelAngle": -45, "labelFontSize": 8.5, "labelColor": "#000", "grid": false, "labelOverlap": false, "labelFlush": false, "labelBound": false, "values": [{"year":2017,"month":1,"date":1,"utc":true},{"year":2017,"month":3,"date":20,"utc":true},{"year":2017,"month":6,"date":15,"utc":true},{"year":2017,"month":9,"date":19,"utc":true},{"year":2017,"month":12,"date":25,"utc":true},{"year":2018,"month":3,"date":20,"utc":true},{"year":2018,"month":6,"date":15,"utc":true},{"year":2018,"month":9,"date":16,"utc":true},{"year":2018,"month":12,"date":25,"utc":true},{"year":2019,"month":3,"date":20,"utc":true},{"year":2019,"month":6,"date":15,"utc":true},{"year":2019,"month":9,"date":16,"utc":true},{"year":2019,"month":12,"date":25,"utc":true},{"year":2020,"month":3,"date":20,"utc":true},{"year":2020,"month":6,"date":1,"utc":true},{"year":2020,"month":9,"date":3,"utc":true},{"year":2020,"month":12,"date":6,"utc":true},{"year":2021,"month":3,"date":6,"utc":true},{"year":2021,"month":6,"date":1,"utc":true},{"year":2021,"month":9,"date":5,"utc":true},{"year":2021,"month":12,"date":6,"utc":true},{"year":2022,"month":3,"date":6,"utc":true},{"year":2022,"month":6,"date":1,"utc":true},{"year":2022,"month":9,"date":3,"utc":true},{"year":2022,"month":12,"date":6,"utc":true}]}},
     "y": {"field": "r", "type": "quantitative", "scale": {"domain": [0, 100], "nice": false}, "axis": {"title": null, "orient": "right", "values": [0,10,20,30,40,50,60,70,80,90,100], "labelExpr": "datum.value + '%'", "labelColor": "#FF0000", "labelFontSize": 10, "grid": false, "labelOverlap": false, "labelPadding": 6}},
     "shape": {"datum": "rendement observé", "type": "nominal"}
    }}
  ]}
 ],
 "resolve": {"scale": {"y": "independent"}, "axis": {"y": "independent"}}
},
{"width": 590, "height": 155,
 "title": {"text": "Station d'épuration de Kerners", "subtitle": "Qualité des eaux traitées - DCO"},
 "data": {"name": "dco"},
 "layer": [
  {"layer": [
   {"mark": {"type": "rule", "color": "#C0504D", "strokeWidth": 2}, "encoding": {"y": {"datum": 90, "type": "quantitative", "scale": {"domain": [0, 100], "nice": false}, "axis": {"title": null, "orient": "left", "values": [0,10,20,30,40,50,60,70,80,90,100], "labelExpr": "datum.value + ' mg/L'", "labelColor": "#C0504D", "grid": true, "labelOverlap": false, "labelPadding": 6}}}},
   {"mark": {"type": "point", "size": 900, "filled": true, "fill": "#C0504D", "stroke": "#C0504D", "strokeWidth": 0.8, "opacity": 1},
    "encoding": {
     "x": {"field": "d", "type": "temporal", "scale": {"type": "utc", "domain": [{"year": 2016, "month": 12, "date": 28, "utc": true}, {"year": 2023, "month": 1, "date": 4, "utc": true}]}, "axis": {"title": null, "format": "%d/%m/%Y", "labelAngle": -45, "labelFontSize": 8.5, "labelColor": "#000", "grid": false, "labelOverlap": false, "labelFlush": false, "labelBound": false, "values": [{"year":2017,"month":1,"date":1,"utc":true},{"year":2017,"month":3,"date":20,"utc":true},{"year":2017,"month":6,"date":15,"utc":true},{"year":2017,"month":9,"date":19,"utc":true},{"year":2017,"month":12,"date":25,"utc":true},{"year":2018,"month":3,"date":20,"utc":true},{"year":2018,"month":6,"date":15,"utc":true},{"year":2018,"month":9,"date":16,"utc":true},{"year":2018,"month":12,"date":25,"utc":true},{"year":2019,"month":3,"date":20,"utc":true},{"year":2019,"month":6,"date":15,"utc":true},{"year":2019,"month":9,"date":16,"utc":true},{"year":2019,"month":12,"date":25,"utc":true},{"year":2020,"month":3,"date":20,"utc":true},{"year":2020,"month":6,"date":1,"utc":true},{"year":2020,"month":9,"date":3,"utc":true},{"year":2020,"month":12,"date":6,"utc":true},{"year":2021,"month":3,"date":6,"utc":true},{"year":2021,"month":6,"date":1,"utc":true},{"year":2021,"month":9,"date":5,"utc":true},{"year":2021,"month":12,"date":6,"utc":true},{"year":2022,"month":3,"date":6,"utc":true},{"year":2022,"month":6,"date":1,"utc":true},{"year":2022,"month":9,"date":3,"utc":true},{"year":2022,"month":12,"date":6,"utc":true}]}},
     "y": {"field": "c", "type": "quantitative", "scale": {"domain": [0, 100], "nice": false}, "axis": {"title": null, "orient": "left", "values": [0,10,20,30,40,50,60,70,80,90,100], "labelExpr": "datum.value + ' mg/L'", "labelColor": "#C0504D", "grid": true, "labelOverlap": false, "labelPadding": 6}},
     "shape": {"datum": "Concentration des eaux traitées", "type": "nominal",
      "scale": {"domain": ["Normes de rejet", "rendement à respecter", "Concentration des eaux traitées", "rendement observé"], "range": ["M-1,-0.06L1,-0.06L1,0.06L-1,0.06Z", "M-1,-0.06L-0.6,-0.06L-0.6,0.06L-1,0.06ZM-0.35,-0.06L0.05,-0.06L0.05,0.06L-0.35,0.06ZM0.3,-0.06L0.45,-0.06L0.45,0.06L0.3,0.06Z", "M0.15,0A0.15,0.15,0,1,1,-0.15,0A0.15,0.15,0,1,1,0.15,0Z", "M-0.17,-0.23L0.23,0.17L0.17,0.23L-0.23,-0.17ZM-0.23,0.17L0.17,-0.23L0.23,-0.17L-0.17,0.23Z"]},
      "legend": {"legendX": 31, "legendY": 207, "symbolSize": 900, "columnPadding": 20, "symbolFillColor": "#C0504D", "symbolStrokeColor": "#C0504D"}}
    }}
  ]},
  {"layer": [
   {"mark": {"type": "rule", "color": "#C0504D", "strokeWidth": 1.5, "strokeDash": [2, 4]}, "encoding": {"y": {"datum": 0, "type": "quantitative", "scale": {"domain": [0, 100], "nice": false}, "axis": {"title": null, "orient": "right", "values": [0,10,20,30,40,50,60,70,80,90,100], "labelExpr": "datum.value + '%'", "labelColor": "#C0504D", "labelFontSize": 10, "grid": false, "labelOverlap": false, "labelPadding": 6}}}},
   {"mark": {"type": "point", "size": 900, "filled": true, "fill": "#C0504D", "strokeWidth": 0, "opacity": 1},
    "encoding": {
     "x": {"field": "d", "type": "temporal", "axis": {"title": null, "format": "%d/%m/%Y", "labelAngle": -45, "labelFontSize": 8.5, "labelColor": "#000", "grid": false, "labelOverlap": false, "labelFlush": false, "labelBound": false, "values": [{"year":2017,"month":1,"date":1,"utc":true},{"year":2017,"month":3,"date":20,"utc":true},{"year":2017,"month":6,"date":15,"utc":true},{"year":2017,"month":9,"date":19,"utc":true},{"year":2017,"month":12,"date":25,"utc":true},{"year":2018,"month":3,"date":20,"utc":true},{"year":2018,"month":6,"date":15,"utc":true},{"year":2018,"month":9,"date":16,"utc":true},{"year":2018,"month":12,"date":25,"utc":true},{"year":2019,"month":3,"date":20,"utc":true},{"year":2019,"month":6,"date":15,"utc":true},{"year":2019,"month":9,"date":16,"utc":true},{"year":2019,"month":12,"date":25,"utc":true},{"year":2020,"month":3,"date":20,"utc":true},{"year":2020,"month":6,"date":1,"utc":true},{"year":2020,"month":9,"date":3,"utc":true},{"year":2020,"month":12,"date":6,"utc":true},{"year":2021,"month":3,"date":6,"utc":true},{"year":2021,"month":6,"date":1,"utc":true},{"year":2021,"month":9,"date":5,"utc":true},{"year":2021,"month":12,"date":6,"utc":true},{"year":2022,"month":3,"date":6,"utc":true},{"year":2022,"month":6,"date":1,"utc":true},{"year":2022,"month":9,"date":3,"utc":true},{"year":2022,"month":12,"date":6,"utc":true}]}},
     "y": {"field": "r", "type": "quantitative", "scale": {"domain": [0, 100], "nice": false}, "axis": {"title": null, "orient": "right", "values": [0,10,20,30,40,50,60,70,80,90,100], "labelExpr": "datum.value + '%'", "labelColor": "#C0504D", "labelFontSize": 10, "grid": false, "labelOverlap": false, "labelPadding": 6}},
     "shape": {"datum": "rendement observé", "type": "nominal"}
    }}
  ]}
 ],
 "resolve": {"scale": {"y": "independent"}, "axis": {"y": "independent"}}
}
], "spacing": 22, "resolve": {"scale": {"shape": "independent"}, "legend": {"shape": "independent"}}},
{"hconcat": [
{"width": 591, "height": 182,
 "title": {"text": "Station d'épuration de Kerners", "subtitle": "Qualité des eaux traitées - MES"},
 "data": {"name": "mes"},
 "layer": [
  {"layer": [
   {"mark": {"type": "rule", "color": "#FFC000", "strokeWidth": 2}, "encoding": {"y": {"datum": 30, "type": "quantitative", "scale": {"domain": [0, 90], "nice": false}, "axis": {"title": null, "orient": "left", "values": [0,10,20,30,40,50,60,70,80,90], "labelExpr": "datum.value + ' mg/L'", "labelColor": "#F79646", "grid": true, "labelOverlap": false, "labelPadding": 10}}}},
   {"mark": {"type": "point", "size": 900, "filled": true, "fill": "#F79646", "stroke": "#F79646", "strokeWidth": 0.8, "opacity": 1},
    "encoding": {
     "x": {"field": "d", "type": "temporal", "scale": {"type": "utc", "domain": [{"year": 2016, "month": 12, "date": 28, "utc": true}, {"year": 2023, "month": 1, "date": 4, "utc": true}]}, "axis": {"title": null, "format": "%d/%m/%Y", "labelAngle": -45, "labelFontSize": 8.5, "labelColor": "#000", "grid": false, "labelOverlap": false, "labelFlush": false, "labelBound": false, "values": [{"year":2017,"month":1,"date":1,"utc":true},{"year":2017,"month":3,"date":20,"utc":true},{"year":2017,"month":6,"date":15,"utc":true},{"year":2017,"month":9,"date":19,"utc":true},{"year":2017,"month":12,"date":25,"utc":true},{"year":2018,"month":3,"date":20,"utc":true},{"year":2018,"month":6,"date":15,"utc":true},{"year":2018,"month":9,"date":16,"utc":true},{"year":2018,"month":12,"date":25,"utc":true},{"year":2019,"month":3,"date":20,"utc":true},{"year":2019,"month":6,"date":15,"utc":true},{"year":2019,"month":9,"date":16,"utc":true},{"year":2019,"month":12,"date":25,"utc":true},{"year":2020,"month":3,"date":20,"utc":true},{"year":2020,"month":6,"date":1,"utc":true},{"year":2020,"month":9,"date":3,"utc":true},{"year":2020,"month":12,"date":6,"utc":true},{"year":2021,"month":3,"date":6,"utc":true},{"year":2021,"month":6,"date":1,"utc":true},{"year":2021,"month":9,"date":5,"utc":true},{"year":2021,"month":12,"date":6,"utc":true},{"year":2022,"month":3,"date":6,"utc":true},{"year":2022,"month":6,"date":1,"utc":true},{"year":2022,"month":9,"date":3,"utc":true},{"year":2022,"month":12,"date":6,"utc":true}]}},
     "y": {"field": "c", "type": "quantitative", "scale": {"domain": [0, 90], "nice": false}, "axis": {"title": null, "orient": "left", "values": [0,10,20,30,40,50,60,70,80,90], "labelExpr": "datum.value + ' mg/L'", "labelColor": "#F79646", "grid": true, "labelOverlap": false, "labelPadding": 10}},
     "shape": {"datum": "Concentration des eaux traitées", "type": "nominal",
      "scale": {"domain": ["Normes de rejet", "Concentration des eaux traitées", "rendement observé", "rendement à respecter"], "range": ["M-1,-0.06L1,-0.06L1,0.06L-1,0.06Z", "M0.15,0A0.15,0.15,0,1,1,-0.15,0A0.15,0.15,0,1,1,0.15,0Z", "M-0.17,-0.23L0.23,0.17L0.17,0.23L-0.23,-0.17ZM-0.23,0.17L0.17,-0.23L0.23,-0.17L-0.17,0.23Z", "M-1,-0.06L-0.6,-0.06L-0.6,0.06L-1,0.06ZM-0.35,-0.06L0.05,-0.06L0.05,0.06L-0.35,0.06ZM0.3,-0.06L0.45,-0.06L0.45,0.06L0.3,0.06Z"]},
      "legend": {"legendX": 20, "legendY": 235, "symbolSize": 900, "columnPadding": 20, "symbolFillColor": "#FFC000", "symbolStrokeColor": "#FFC000"}}
    }}
  ]},
  {"layer": [
   {"mark": {"type": "rule", "color": "#FFC000", "strokeWidth": 1.5, "strokeDash": [6, 4]}, "encoding": {"y": {"datum": 0, "type": "quantitative", "scale": {"domain": [0, 100], "nice": false}, "axis": {"title": null, "orient": "right", "values": [0,10,20,30,40,50,60,70,80,90,100], "labelExpr": "datum.value + '%'", "labelColor": "#F79646", "labelFontSize": 10, "grid": false, "labelOverlap": false, "labelPadding": 6}}}},
   {"mark": {"type": "point", "size": 900, "filled": true, "fill": "#FFC000", "strokeWidth": 0, "opacity": 1},
    "encoding": {
     "x": {"field": "d", "type": "temporal", "axis": {"title": null, "format": "%d/%m/%Y", "labelAngle": -45, "labelFontSize": 8.5, "labelColor": "#000", "grid": false, "labelOverlap": false, "labelFlush": false, "labelBound": false, "values": [{"year":2017,"month":1,"date":1,"utc":true},{"year":2017,"month":3,"date":20,"utc":true},{"year":2017,"month":6,"date":15,"utc":true},{"year":2017,"month":9,"date":19,"utc":true},{"year":2017,"month":12,"date":25,"utc":true},{"year":2018,"month":3,"date":20,"utc":true},{"year":2018,"month":6,"date":15,"utc":true},{"year":2018,"month":9,"date":16,"utc":true},{"year":2018,"month":12,"date":25,"utc":true},{"year":2019,"month":3,"date":20,"utc":true},{"year":2019,"month":6,"date":15,"utc":true},{"year":2019,"month":9,"date":16,"utc":true},{"year":2019,"month":12,"date":25,"utc":true},{"year":2020,"month":3,"date":20,"utc":true},{"year":2020,"month":6,"date":1,"utc":true},{"year":2020,"month":9,"date":3,"utc":true},{"year":2020,"month":12,"date":6,"utc":true},{"year":2021,"month":3,"date":6,"utc":true},{"year":2021,"month":6,"date":1,"utc":true},{"year":2021,"month":9,"date":5,"utc":true},{"year":2021,"month":12,"date":6,"utc":true},{"year":2022,"month":3,"date":6,"utc":true},{"year":2022,"month":6,"date":1,"utc":true},{"year":2022,"month":9,"date":3,"utc":true},{"year":2022,"month":12,"date":6,"utc":true}]}},
     "y": {"field": "r", "type": "quantitative", "scale": {"domain": [0, 100], "nice": false}, "axis": {"title": null, "orient": "right", "values": [0,10,20,30,40,50,60,70,80,90,100], "labelExpr": "datum.value + '%'", "labelColor": "#F79646", "labelFontSize": 10, "grid": false, "labelOverlap": false, "labelPadding": 6}},
     "shape": {"datum": "rendement observé", "type": "nominal"}
    }}
  ]}
 ],
 "resolve": {"scale": {"y": "independent"}, "axis": {"y": "independent"}}
},
{"width": 583, "height": 163,
 "title": {"text": "Station d'épuration de Kerners", "subtitle": "Qualité des eaux traitées - NGL"},
 "data": {"name": "ngl"},
 "layer": [
  {"layer": [
   {"mark": {"type": "rule", "color": "#00B050", "strokeWidth": 2}, "encoding": {"y": {"datum": 15, "type": "quantitative", "scale": {"domain": [0, 30], "nice": false}, "axis": {"title": null, "orient": "left", "values": [0,5,10,15,20,25,30], "labelExpr": "datum.value + ' mg/L'", "labelColor": "#00B050", "grid": true, "labelOverlap": false, "labelPadding": 7}}}},
   {"mark": {"type": "point", "size": 900, "filled": true, "fill": "#00B050", "stroke": "#00B050", "strokeWidth": 0.8, "opacity": 1},
    "encoding": {
     "x": {"field": "d", "type": "temporal", "scale": {"type": "utc", "domain": [{"year": 2016, "month": 12, "date": 28, "utc": true}, {"year": 2023, "month": 1, "date": 4, "utc": true}]}, "axis": {"title": null, "format": "%d/%m/%Y", "labelAngle": -45, "labelFontSize": 8.5, "labelColor": "#000", "grid": false, "labelOverlap": false, "labelFlush": false, "labelBound": false, "values": [{"year":2017,"month":1,"date":1,"utc":true},{"year":2017,"month":3,"date":20,"utc":true},{"year":2017,"month":6,"date":15,"utc":true},{"year":2017,"month":9,"date":19,"utc":true},{"year":2017,"month":12,"date":25,"utc":true},{"year":2018,"month":3,"date":20,"utc":true},{"year":2018,"month":6,"date":15,"utc":true},{"year":2018,"month":9,"date":16,"utc":true},{"year":2018,"month":12,"date":25,"utc":true},{"year":2019,"month":3,"date":20,"utc":true},{"year":2019,"month":6,"date":15,"utc":true},{"year":2019,"month":9,"date":16,"utc":true},{"year":2019,"month":12,"date":25,"utc":true},{"year":2020,"month":3,"date":20,"utc":true},{"year":2020,"month":6,"date":1,"utc":true},{"year":2020,"month":9,"date":3,"utc":true},{"year":2020,"month":12,"date":6,"utc":true},{"year":2021,"month":3,"date":6,"utc":true},{"year":2021,"month":6,"date":1,"utc":true},{"year":2021,"month":9,"date":5,"utc":true},{"year":2021,"month":12,"date":6,"utc":true},{"year":2022,"month":3,"date":6,"utc":true},{"year":2022,"month":6,"date":1,"utc":true},{"year":2022,"month":9,"date":3,"utc":true},{"year":2022,"month":12,"date":6,"utc":true}]}},
     "y": {"field": "c", "type": "quantitative", "scale": {"domain": [0, 30], "nice": false}, "axis": {"title": null, "orient": "left", "values": [0,5,10,15,20,25,30], "labelExpr": "datum.value + ' mg/L'", "labelColor": "#00B050", "grid": true, "labelOverlap": false, "labelPadding": 7}},
     "shape": {"datum": "Concentration des eaux traitées", "type": "nominal",
      "scale": {"domain": ["Normes de rejet", "Concentration des eaux traitées", "rendement observé", "rendement à respecter"], "range": ["M-1,-0.06L1,-0.06L1,0.06L-1,0.06Z", "M0.15,0A0.15,0.15,0,1,1,-0.15,0A0.15,0.15,0,1,1,0.15,0Z", "M-0.17,-0.23L0.23,0.17L0.17,0.23L-0.23,-0.17ZM-0.23,0.17L0.17,-0.23L0.23,-0.17L-0.17,0.23Z", "M-1,-0.06L-0.6,-0.06L-0.6,0.06L-1,0.06ZM-0.35,-0.06L0.05,-0.06L0.05,0.06L-0.35,0.06ZM0.3,-0.06L0.45,-0.06L0.45,0.06L0.3,0.06Z"]},
      "legend": {"legendX": 33, "legendY": 226, "symbolSize": 900, "columnPadding": 16, "symbolFillColor": "#00B050", "symbolStrokeColor": "#00B050"}}
    }}
  ]},
  {"layer": [
   {"mark": {"type": "rule", "color": "#00B050", "strokeWidth": 1.5, "strokeDash": [2, 4]}, "encoding": {"y": {"datum": 0, "type": "quantitative", "scale": {"domain": [0, 100], "nice": false}, "axis": {"title": null, "orient": "right", "values": [0,10,20,30,40,50,60,70,80,90], "labelExpr": "datum.value + '%'", "labelColor": "#00B050", "labelFontSize": 10, "grid": false, "labelOverlap": false, "labelPadding": 6}}}},
   {"mark": {"type": "point", "size": 900, "filled": true, "fill": "#00B050", "strokeWidth": 0, "opacity": 1},
    "encoding": {
     "x": {"field": "d", "type": "temporal", "axis": {"title": null, "format": "%d/%m/%Y", "labelAngle": -45, "labelFontSize": 8.5, "labelColor": "#000", "grid": false, "labelOverlap": false, "labelFlush": false, "labelBound": false, "values": [{"year":2017,"month":1,"date":1,"utc":true},{"year":2017,"month":3,"date":20,"utc":true},{"year":2017,"month":6,"date":15,"utc":true},{"year":2017,"month":9,"date":19,"utc":true},{"year":2017,"month":12,"date":25,"utc":true},{"year":2018,"month":3,"date":20,"utc":true},{"year":2018,"month":6,"date":15,"utc":true},{"year":2018,"month":9,"date":16,"utc":true},{"year":2018,"month":12,"date":25,"utc":true},{"year":2019,"month":3,"date":20,"utc":true},{"year":2019,"month":6,"date":15,"utc":true},{"year":2019,"month":9,"date":16,"utc":true},{"year":2019,"month":12,"date":25,"utc":true},{"year":2020,"month":3,"date":20,"utc":true},{"year":2020,"month":6,"date":1,"utc":true},{"year":2020,"month":9,"date":3,"utc":true},{"year":2020,"month":12,"date":6,"utc":true},{"year":2021,"month":3,"date":6,"utc":true},{"year":2021,"month":6,"date":1,"utc":true},{"year":2021,"month":9,"date":5,"utc":true},{"year":2021,"month":12,"date":6,"utc":true},{"year":2022,"month":3,"date":6,"utc":true},{"year":2022,"month":6,"date":1,"utc":true},{"year":2022,"month":9,"date":3,"utc":true},{"year":2022,"month":12,"date":6,"utc":true}]}},
     "y": {"field": "r", "type": "quantitative", "scale": {"domain": [0, 100], "nice": false}, "axis": {"title": null, "orient": "right", "values": [0,10,20,30,40,50,60,70,80,90], "labelExpr": "datum.value + '%'", "labelColor": "#00B050", "labelFontSize": 10, "grid": false, "labelOverlap": false, "labelPadding": 6}},
     "shape": {"datum": "rendement observé", "type": "nominal"}
    }}
  ]}
 ],
 "resolve": {"scale": {"y": "independent"}, "axis": {"y": "independent"}}
}
], "spacing": 23, "resolve": {"scale": {"shape": "independent"}, "legend": {"shape": "independent"}}},
{"hconcat": [
{"width": 602, "height": 158,
 "title": {"text": "Station d'épuration de Kerners", "subtitle": "Qualité des eaux traitées - NTK"},
 "data": {"name": "ntk"},
 "layer": [
  {"layer": [
   {"mark": {"type": "point", "size": 900, "filled": true, "fill": "#9BBB59", "stroke": "#9BBB59", "strokeWidth": 0.8, "opacity": 1},
    "encoding": {
     "x": {"field": "d", "type": "temporal", "scale": {"type": "utc", "domain": [{"year": 2016, "month": 12, "date": 28, "utc": true}, {"year": 2023, "month": 1, "date": 4, "utc": true}]}, "axis": {"title": null, "format": "%d/%m/%Y", "labelAngle": -45, "labelFontSize": 8.5, "labelColor": "#000", "grid": false, "labelOverlap": false, "labelFlush": false, "labelBound": false, "values": [{"year":2017,"month":1,"date":1,"utc":true},{"year":2017,"month":3,"date":20,"utc":true},{"year":2017,"month":6,"date":15,"utc":true},{"year":2017,"month":9,"date":19,"utc":true},{"year":2017,"month":12,"date":25,"utc":true},{"year":2018,"month":3,"date":20,"utc":true},{"year":2018,"month":6,"date":15,"utc":true},{"year":2018,"month":9,"date":16,"utc":true},{"year":2018,"month":12,"date":25,"utc":true},{"year":2019,"month":3,"date":20,"utc":true},{"year":2019,"month":6,"date":15,"utc":true},{"year":2019,"month":9,"date":16,"utc":true},{"year":2019,"month":12,"date":25,"utc":true},{"year":2020,"month":3,"date":20,"utc":true},{"year":2020,"month":6,"date":1,"utc":true},{"year":2020,"month":9,"date":3,"utc":true},{"year":2020,"month":12,"date":6,"utc":true},{"year":2021,"month":3,"date":6,"utc":true},{"year":2021,"month":6,"date":1,"utc":true},{"year":2021,"month":9,"date":5,"utc":true},{"year":2021,"month":12,"date":6,"utc":true},{"year":2022,"month":3,"date":6,"utc":true},{"year":2022,"month":6,"date":1,"utc":true},{"year":2022,"month":9,"date":3,"utc":true},{"year":2022,"month":12,"date":6,"utc":true}]}},
     "y": {"field": "c", "type": "quantitative", "scale": {"domain": [0, 25], "nice": false}, "axis": {"title": null, "orient": "left", "values": [0,5,10,15,20,25], "labelExpr": "datum.value + ' mg/L'", "labelColor": "#9BBB59", "grid": true, "labelOverlap": false, "labelPadding": 4}},
     "shape": {"datum": "Concentration des eaux traitées", "type": "nominal",
      "scale": {"domain": ["norme de rejet", "Concentration des eaux traitées", "rendement observé", "rendement à observer"], "range": ["M-1,-0.06L1,-0.06L1,0.06L-1,0.06Z", "M0.15,0A0.15,0.15,0,1,1,-0.15,0A0.15,0.15,0,1,1,0.15,0Z", "M-0.17,-0.23L0.23,0.17L0.17,0.23L-0.23,-0.17ZM-0.23,0.17L0.17,-0.23L0.23,-0.17L-0.17,0.23Z", "M-1,-0.06L-0.6,-0.06L-0.6,0.06L-1,0.06ZM-0.35,-0.06L0.05,-0.06L0.05,0.06L-0.35,0.06ZM0.3,-0.06L0.45,-0.06L0.45,0.06L0.3,0.06Z"]},
      "legend": {"legendX": 29, "legendY": 205, "symbolSize": 900, "columnPadding": 29, "symbolFillColor": "#9BBB59", "symbolStrokeColor": "#9BBB59"}}
    }}
  ]},
  {"layer": [
   {"mark": {"type": "point", "size": 900, "filled": true, "fill": "#9BBB59", "strokeWidth": 0, "opacity": 1},
    "encoding": {
     "x": {"field": "d", "type": "temporal", "axis": {"title": null, "format": "%d/%m/%Y", "labelAngle": -45, "labelFontSize": 8.5, "labelColor": "#000", "grid": false, "labelOverlap": false, "labelFlush": false, "labelBound": false, "values": [{"year":2017,"month":1,"date":1,"utc":true},{"year":2017,"month":3,"date":20,"utc":true},{"year":2017,"month":6,"date":15,"utc":true},{"year":2017,"month":9,"date":19,"utc":true},{"year":2017,"month":12,"date":25,"utc":true},{"year":2018,"month":3,"date":20,"utc":true},{"year":2018,"month":6,"date":15,"utc":true},{"year":2018,"month":9,"date":16,"utc":true},{"year":2018,"month":12,"date":25,"utc":true},{"year":2019,"month":3,"date":20,"utc":true},{"year":2019,"month":6,"date":15,"utc":true},{"year":2019,"month":9,"date":16,"utc":true},{"year":2019,"month":12,"date":25,"utc":true},{"year":2020,"month":3,"date":20,"utc":true},{"year":2020,"month":6,"date":1,"utc":true},{"year":2020,"month":9,"date":3,"utc":true},{"year":2020,"month":12,"date":6,"utc":true},{"year":2021,"month":3,"date":6,"utc":true},{"year":2021,"month":6,"date":1,"utc":true},{"year":2021,"month":9,"date":5,"utc":true},{"year":2021,"month":12,"date":6,"utc":true},{"year":2022,"month":3,"date":6,"utc":true},{"year":2022,"month":6,"date":1,"utc":true},{"year":2022,"month":9,"date":3,"utc":true},{"year":2022,"month":12,"date":6,"utc":true}]}},
     "y": {"field": "r", "type": "quantitative", "scale": {"domain": [0, 100], "nice": false}, "axis": {"title": null, "orient": "right", "values": [0,10,20,30,40,50,60,70,80,90,100], "labelExpr": "datum.value + '%'", "labelColor": "#9BBB59", "labelFontSize": 10, "grid": false, "labelOverlap": false, "labelPadding": 6}},
     "shape": {"datum": "rendement observé", "type": "nominal"}
    }}
  ]}
 ],
 "resolve": {"scale": {"y": "independent"}, "axis": {"y": "independent"}}
},
{"width": 578, "height": 161,
 "title": {"text": "Station d'épuration de Kerners", "subtitle": "Qualité des eaux traitées - Pₜ"},
 "data": {"name": "pt"},
 "layer": [
  {"layer": [
   {"mark": {"type": "rule", "color": "#7030A0", "strokeWidth": 2}, "encoding": {"y": {"datum": 1, "type": "quantitative", "scale": {"domain": [0, 6], "nice": false}, "axis": {"title": null, "orient": "left", "values": [0,1,2,3,4,5,6], "labelExpr": "replace(format(datum.value, '.1f'), '.', ',') + ' mg/L'", "labelColor": "#8064A2", "grid": true, "labelOverlap": false, "labelPadding": 4}}}},
   {"mark": {"type": "point", "size": 900, "filled": true, "fill": "#7030A0", "stroke": "#7030A0", "strokeWidth": 0.8, "opacity": 1},
    "encoding": {
     "x": {"field": "d", "type": "temporal", "scale": {"type": "utc", "domain": [{"year": 2016, "month": 12, "date": 28, "utc": true}, {"year": 2023, "month": 1, "date": 4, "utc": true}]}, "axis": {"title": null, "format": "%d/%m/%Y", "labelAngle": -45, "labelFontSize": 8.5, "labelColor": "#000", "grid": false, "labelOverlap": false, "labelFlush": false, "labelBound": false, "values": [{"year":2017,"month":1,"date":1,"utc":true},{"year":2017,"month":3,"date":20,"utc":true},{"year":2017,"month":6,"date":15,"utc":true},{"year":2017,"month":9,"date":19,"utc":true},{"year":2017,"month":12,"date":25,"utc":true},{"year":2018,"month":3,"date":20,"utc":true},{"year":2018,"month":6,"date":15,"utc":true},{"year":2018,"month":9,"date":16,"utc":true},{"year":2018,"month":12,"date":25,"utc":true},{"year":2019,"month":3,"date":20,"utc":true},{"year":2019,"month":6,"date":15,"utc":true},{"year":2019,"month":9,"date":16,"utc":true},{"year":2019,"month":12,"date":25,"utc":true},{"year":2020,"month":3,"date":20,"utc":true},{"year":2020,"month":6,"date":1,"utc":true},{"year":2020,"month":9,"date":3,"utc":true},{"year":2020,"month":12,"date":6,"utc":true},{"year":2021,"month":3,"date":6,"utc":true},{"year":2021,"month":6,"date":1,"utc":true},{"year":2021,"month":9,"date":5,"utc":true},{"year":2021,"month":12,"date":6,"utc":true},{"year":2022,"month":3,"date":6,"utc":true},{"year":2022,"month":6,"date":1,"utc":true},{"year":2022,"month":9,"date":3,"utc":true},{"year":2022,"month":12,"date":6,"utc":true}]}},
     "y": {"field": "c", "type": "quantitative", "scale": {"domain": [0, 6], "nice": false}, "axis": {"title": null, "orient": "left", "values": [0,1,2,3,4,5,6], "labelExpr": "replace(format(datum.value, '.1f'), '.', ',') + ' mg/L'", "labelColor": "#8064A2", "grid": true, "labelOverlap": false, "labelPadding": 4}},
     "shape": {"datum": "Concentration des eaux traitées", "type": "nominal",
      "scale": {"domain": ["Normes de rejet", "Concentration des eaux traitées", "rendement observé"], "range": ["M-1,-0.06L1,-0.06L1,0.06L-1,0.06Z", "M0.15,0A0.15,0.15,0,1,1,-0.15,0A0.15,0.15,0,1,1,0.15,0Z", "M-0.17,-0.23L0.23,0.17L0.17,0.23L-0.23,-0.17ZM-0.23,0.17L0.17,-0.23L0.23,-0.17L-0.17,0.23Z"]},
      "legend": {"legendX": 61, "legendY": 199, "symbolSize": 900, "columnPadding": 55, "symbolFillColor": "#7030A0", "symbolStrokeColor": "#7030A0"}}
    }}
  ]},
  {"layer": [
   {"mark": {"type": "point", "size": 900, "filled": true, "fill": "#8064A2", "strokeWidth": 0, "opacity": 1},
    "encoding": {
     "x": {"field": "d", "type": "temporal", "axis": {"title": null, "format": "%d/%m/%Y", "labelAngle": -45, "labelFontSize": 8.5, "labelColor": "#000", "grid": false, "labelOverlap": false, "labelFlush": false, "labelBound": false, "values": [{"year":2017,"month":1,"date":1,"utc":true},{"year":2017,"month":3,"date":20,"utc":true},{"year":2017,"month":6,"date":15,"utc":true},{"year":2017,"month":9,"date":19,"utc":true},{"year":2017,"month":12,"date":25,"utc":true},{"year":2018,"month":3,"date":20,"utc":true},{"year":2018,"month":6,"date":15,"utc":true},{"year":2018,"month":9,"date":16,"utc":true},{"year":2018,"month":12,"date":25,"utc":true},{"year":2019,"month":3,"date":20,"utc":true},{"year":2019,"month":6,"date":15,"utc":true},{"year":2019,"month":9,"date":16,"utc":true},{"year":2019,"month":12,"date":25,"utc":true},{"year":2020,"month":3,"date":20,"utc":true},{"year":2020,"month":6,"date":1,"utc":true},{"year":2020,"month":9,"date":3,"utc":true},{"year":2020,"month":12,"date":6,"utc":true},{"year":2021,"month":3,"date":6,"utc":true},{"year":2021,"month":6,"date":1,"utc":true},{"year":2021,"month":9,"date":5,"utc":true},{"year":2021,"month":12,"date":6,"utc":true},{"year":2022,"month":3,"date":6,"utc":true},{"year":2022,"month":6,"date":1,"utc":true},{"year":2022,"month":9,"date":3,"utc":true},{"year":2022,"month":12,"date":6,"utc":true}]}},
     "y": {"field": "r", "type": "quantitative", "scale": {"domain": [0, 100], "nice": false}, "axis": {"title": null, "orient": "right", "values": [0,10,20,30,40,50,60,70,80,90,100], "labelExpr": "datum.value + '%'", "labelColor": "#7030A0", "labelFontSize": 10, "grid": false, "labelOverlap": false, "labelPadding": 6}},
     "shape": {"datum": "rendement observé", "type": "nominal"}
    }}
  ]}
 ],
 "resolve": {"scale": {"y": "independent"}, "axis": {"y": "independent"}}
}
], "spacing": 27, "resolve": {"scale": {"shape": "independent"}, "legend": {"shape": "independent"}}},
{"hconcat": [
{"width": 295, "height": 10, "data": {"values": []}, "mark": {"type": "point"}, "encoding": {}},
{"width": 578, "height": 150,
 "title": {"text": "Station d'épuration de Kerners", "offset": 0, "dy": 5, "subtitle": "Qualité des eaux traitées - NH4"},
 "data": {"name": "nh4"},
 "layer": [
  {"layer": [
   {"mark": {"type": "point", "size": 100, "filled": true, "fill": "#0070C0", "stroke": "#0070C0", "strokeWidth": 0.8, "opacity": 1},
    "encoding": {
     "x": {"field": "d", "type": "temporal", "scale": {"type": "utc", "domain": [{"year": 2016, "month": 12, "date": 28, "utc": true}, {"year": 2023, "month": 1, "date": 4, "utc": true}]}, "axis": {"title": null, "format": "%d/%m/%Y", "labelAngle": -45, "labelFontSize": 8.5, "labelColor": "#000", "grid": false, "labelOverlap": false, "labelFlush": false, "labelBound": false, "values": [{"year":2017,"month":1,"date":1,"utc":true},{"year":2017,"month":3,"date":20,"utc":true},{"year":2017,"month":6,"date":15,"utc":true},{"year":2017,"month":9,"date":19,"utc":true},{"year":2017,"month":12,"date":25,"utc":true},{"year":2018,"month":3,"date":20,"utc":true},{"year":2018,"month":6,"date":15,"utc":true},{"year":2018,"month":9,"date":16,"utc":true},{"year":2018,"month":12,"date":25,"utc":true},{"year":2019,"month":3,"date":20,"utc":true},{"year":2019,"month":6,"date":15,"utc":true},{"year":2019,"month":9,"date":16,"utc":true},{"year":2019,"month":12,"date":25,"utc":true},{"year":2020,"month":3,"date":20,"utc":true},{"year":2020,"month":6,"date":1,"utc":true},{"year":2020,"month":9,"date":3,"utc":true},{"year":2020,"month":12,"date":6,"utc":true},{"year":2021,"month":3,"date":6,"utc":true},{"year":2021,"month":6,"date":1,"utc":true},{"year":2021,"month":9,"date":5,"utc":true},{"year":2021,"month":12,"date":6,"utc":true},{"year":2022,"month":3,"date":6,"utc":true},{"year":2022,"month":6,"date":1,"utc":true},{"year":2022,"month":9,"date":3,"utc":true},{"year":2022,"month":12,"date":6,"utc":true}]}},
     "y": {"field": "c", "type": "quantitative", "scale": {"domain": [0.1, 25.1], "nice": false, "zero": false}, "axis": {"title": null, "orient": "left", "values": [0.1,5.1,10.1,15.1,20.1,25.1], "labelExpr": "replace(format(datum.value, '.1f'), '.', ',') + ' mg/L'", "labelColor": "#0070C0", "grid": true, "labelOverlap": false, "labelPadding": 5}},
     "shape": {"datum": "Concentration des eaux traitées", "type": "nominal",
      "scale": {"domain": ["Concentration des eaux traitées", "rendement observé"], "range": ["M0.5,0A0.5,0.5,0,1,1,-0.5,0A0.5,0.5,0,1,1,0.5,0Z", "M-0.5,-0.7L0.7,0.5L0.5,0.7L-0.7,-0.5ZM-0.7,0.5L0.5,-0.7L0.7,-0.5L-0.5,0.7Z"]},
      "legend": {"legendX": 101, "legendY": 202, "symbolSize": 100, "columnPadding": 126, "symbolFillColor": "#0070C0", "symbolStrokeColor": "#0070C0"}}
    }}
  ]},
  {"layer": [
   {"mark": {"type": "point", "size": 100, "filled": true, "fill": "#0070C0", "strokeWidth": 0, "opacity": 1},
    "encoding": {
     "x": {"field": "d", "type": "temporal", "axis": {"title": null, "format": "%d/%m/%Y", "labelAngle": -45, "labelFontSize": 8.5, "labelColor": "#000", "grid": false, "labelOverlap": false, "labelFlush": false, "labelBound": false, "values": [{"year":2017,"month":1,"date":1,"utc":true},{"year":2017,"month":3,"date":20,"utc":true},{"year":2017,"month":6,"date":15,"utc":true},{"year":2017,"month":9,"date":19,"utc":true},{"year":2017,"month":12,"date":25,"utc":true},{"year":2018,"month":3,"date":20,"utc":true},{"year":2018,"month":6,"date":15,"utc":true},{"year":2018,"month":9,"date":16,"utc":true},{"year":2018,"month":12,"date":25,"utc":true},{"year":2019,"month":3,"date":20,"utc":true},{"year":2019,"month":6,"date":15,"utc":true},{"year":2019,"month":9,"date":16,"utc":true},{"year":2019,"month":12,"date":25,"utc":true},{"year":2020,"month":3,"date":20,"utc":true},{"year":2020,"month":6,"date":1,"utc":true},{"year":2020,"month":9,"date":3,"utc":true},{"year":2020,"month":12,"date":6,"utc":true},{"year":2021,"month":3,"date":6,"utc":true},{"year":2021,"month":6,"date":1,"utc":true},{"year":2021,"month":9,"date":5,"utc":true},{"year":2021,"month":12,"date":6,"utc":true},{"year":2022,"month":3,"date":6,"utc":true},{"year":2022,"month":6,"date":1,"utc":true},{"year":2022,"month":9,"date":3,"utc":true},{"year":2022,"month":12,"date":6,"utc":true}]}},
     "y": {"field": "r", "type": "quantitative", "scale": {"domain": [0, 100], "nice": false}, "axis": {"title": null, "orient": "right", "values": [0,10,20,30,40,50,60,70,80,90,100], "labelExpr": "datum.value + '%'", "labelColor": "#0070C0", "labelFontSize": 10, "grid": false, "labelOverlap": false, "labelPadding": 6}},
     "shape": {"datum": "rendement observé", "type": "nominal"}
    }}
  ]}
 ],
 "resolve": {"scale": {"y": "independent"}, "axis": {"y": "independent"}}
}
], "spacing": 18, "resolve": {"scale": {"shape": "independent"}, "legend": {"shape": "independent"}}}
]
}
